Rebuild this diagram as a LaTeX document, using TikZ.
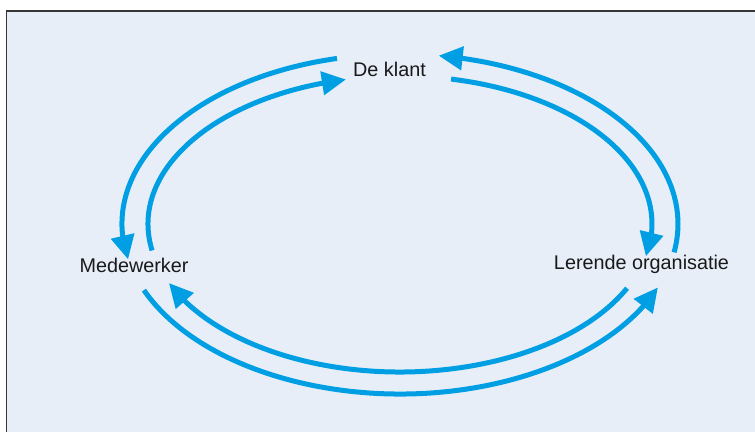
\documentclass[tikz,border=0pt]{standalone}
\usepackage{fontspec}
\setmainfont{Liberation Sans}
\usetikzlibrary{arrows.meta,bending,calc}
\definecolor{bgblue}{RGB}{231,238,248}
\definecolor{arrowblue}{RGB}{0,159,227}
\definecolor{framegray}{RGB}{55,55,55}
\begin{document}
\begin{tikzpicture}[x=1pt,y=1pt,
  flow/.style={draw=arrowblue,line width=5pt,-{Triangle[length=24pt,width=23pt]}},
  label/.style={inner sep=0pt,anchor=base,font=\fontsize{19.8}{24}\selectfont,text=black!90}]
\useasboundingbox (0,0) rectangle (755,432);
\fill[bgblue] (7,0) rectangle (755,421);
\draw[framegray,line width=1.5pt] (755,421) -- (6.3,421) -- (6.3,0);
\coordinate (c) at (400,208);
% text nodes
\node[label] (klant) at (389.5,355) {De klant};
\node[label] (mede) at (134,160) {Medewerker};
\node[label] (lerend) at (641.5,163) {Lerende organisatie};
% start points of the arcs
\coordinate (o1) at ($(c)+(103.1:278pt and 170pt)$);
\coordinate (i1) at ($(c)+(190.3:252pt and 148pt)$);
\coordinate (o2) at ($(c)+(-9.6:278pt and 170pt)$);
\coordinate (i2) at ($(c)+(78.3:252pt and 148pt)$);
\coordinate (i3) at ($(c)+(-25.7:252pt and 148pt)$);
\coordinate (o3) at ($(c)+(202.9:278pt and 170pt)$);
% arcs
\draw[flow] (o1) arc[start angle=103.1,end angle=192,x radius=278pt,y radius=170pt];
\draw[flow] (i1) arc[start angle=190.3,end angle=102.4,x radius=252pt,y radius=148pt];
\draw[flow] (o2) arc[start angle=-9.6,end angle=82,x radius=278pt,y radius=170pt];
\draw[flow] (i2) arc[start angle=78.3,end angle=-12.6,x radius=252pt,y radius=148pt];
\draw[flow] (i3) arc[start angle=-25.7,end angle=-156.5,x radius=252pt,y radius=148pt];
\draw[flow] (o3) arc[start angle=202.9,end angle=338.1,x radius=278pt,y radius=170pt];
\end{tikzpicture}
\end{document}
